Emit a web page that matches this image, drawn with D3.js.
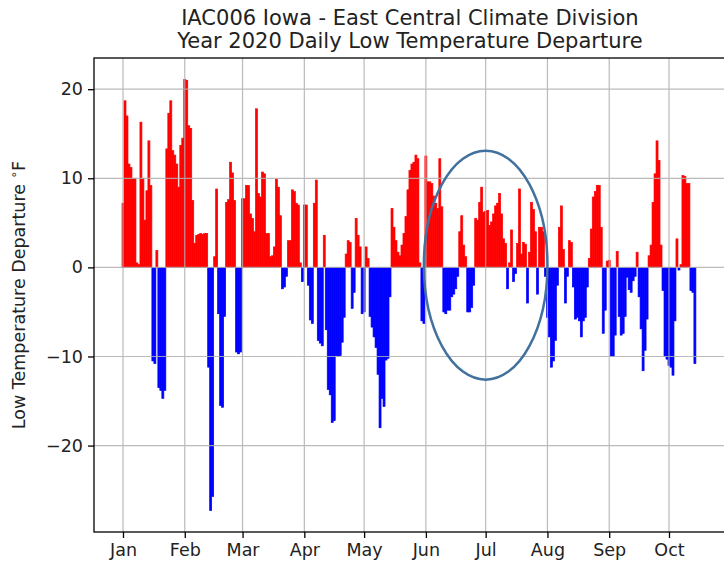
<!DOCTYPE html>
<html>
<head>
<meta charset="utf-8">
<script src="https://cdn.jsdelivr.net/npm/d3@7"></script>
<style>
  body { margin: 0; background: #fff; }
  svg { display: block; font-family: "DejaVu Sans", sans-serif; }
</style>
</head>
<body>
<div id="chart"></div>
<script>
// daily low temperature departure (F) for 2020, one array per month
var jan = [7.2, 18.7, 17, 11.6, 11.2, 10, 10, 0.5, 0.3, 16.3, 10, 5.3, 8.6, 14.2, 9.2, -10.5,
    -10.8, 1.9, -13.5, -13.8, -14.7, -13.8, 13.3, 17.3, 18.7, 13.1, 12.6, 11.6, 9, 13.7, 14.5];
var feb = [21.1, 21, 15.9, 15.6, 7.5, 2.7, 3.6, 3.7, 3.8, 3.7, 3.8, 3.8, -11.2, -27.3, -25.7,
    1.2, 8.8, -5.2, -15.5, -15.7, -5.5, 7.3, 7.6, 11.8, 10.6, 7.5, -9.5, -9.7, -9.5];
var mar = [7.7, 7.7, 9.2, 9.2, 6, 5.5, 4, 17.8, 8.3, 7.9, 10.7, 10.5, 3.8, 3.8, 1.2, 1.3,
    2.3, 9.9, 9, 5.8, -2.4, -2.2, -1, 3, 3, 8.7, 8.5, 7.2, 7, 0.5, -1.6];
var apr = [7, 7, -2, -5.9, -6.3, 7.2, 9.8, -8.2, -8.5, -8.8, 3.6, -7, -13.7, -14.3, -17.4,
    -17.2, -9.9, -10, -9.9, -8.4, -5.6, 1.5, 3, 2.8, -4.6, -2.8, 5.5, 3.6, 2.3, -5.2];
var may = [-5, 2.3, 1, -5.5, -6.7, -7.8, -9, -12, -18, -14.7, -15.6, -10.4, -10.2, -3.3, 6.6,
    4.5, 3, 1.7, 1.3, 2.5, 3.8, 5.7, 8.7, 10.9, 11.6, 11.8, 12.6, 12.2, 0.5, -6, -6.3];
var jun = [12.5, 9.6, 9.6, 9.4, 8, 7.2, 6.6, 12.2, 6.8, -5, -5.2, -4.8, -4.8, -3.3, -3,
    -2.4, -1, 4, 5.8, 2.5, 1.2, -5, -5, -4.5, -2, 5.5, 5.3, 7.3, 9, 6.2];
var jul = [6.3, 6.4, 4.7, 5.1, 6, 6.9, 7.2, 8.3, 6, 3.2, 2.7, -2.4, 0.5, 4.2, -1.6, -0.7,
    2.7, 8.8, 1.5, 2.8, 2.6, -4, 1.7, 7.3, 6.5, 4, -3, 4.5, 4.5, 4, -1];
var aug = [-5.6, -7.8, -11.2, -10.5, -8.2, -2, 4.5, 6.9, 2, -4, -1, 3, 2.8, -2.2, -5.8, -5.6,
    -6, -7.8, -6, -5.6, -2.2, 1, 4.3, 7.9, 8.5, 9.2, 9.2, 4.5, -7.4, -4.8, 0.7];
var sep = [0.8, -10, -10, -7.6, 1.8, -5.5, -7.6, -7.4, -5.5, -1.1, -2.5, -2.8, -1.5, -1, 1.7,
    -3.3, -6.9, -11.6, -9.3, -5.8, 1.3, 2.5, 7.3, 10.5, 14.2, 12, 2.5, -2.6, -10, -10.3];
var oct = [-11, -11.2, -12.1, -6, 3.2, -0.3, 0.3, 10.3, 10.2, 9.4, 9.4, -2.6, -2.8, -10.8];

var titleLines = ["IAC006 Iowa - East Central Climate Division",
    "Year 2020 Daily Low Temperature Departure"];
var yTicks = [-20, -10, 0, 10, 20];
// circled area: dates and departure range
var circleFrom = "2020-05-31", circleTo = "2020-08-01";
var circleLow = -12.6, circleHigh = 13.1;

var DAY = 864e5;
var start = Date.UTC(2020, 0, 1);
var all = [].concat(jan, feb, mar, apr, may, jun, jul, aug, sep, oct);
var data = all.map(function (v, i) { return { date: new Date(start + i * DAY), value: v }; });

var width = 724, height = 564;
var plotLeft = 94, plotTop = 58, plotBottom = 532;
var pxPerDay = 1.9927;
var padLeft = 14.55, padRight = 302.5;
var plotRight = plotLeft + (padLeft + padRight) * pxPerDay;

var svg = d3.select("#chart").append("svg")
    .attr("width", width)
    .attr("height", height);

var x = d3.scaleUtc()
    .domain([new Date(start - padLeft * DAY), new Date(start + padRight * DAY)])
    .range([plotLeft, plotRight]);

var y = d3.scaleLinear()
    .domain([-29.7, 23.5])
    .range([plotBottom, plotTop]);

var monthStarts = d3.utcMonth.range(new Date(start), new Date(Date.UTC(2020, 10, 1)));

// bars (thin stroke of the same colour closes the seams between days)
svg.append("g").selectAll("rect")
    .data(data)
    .enter().append("rect")
    .attr("x", function (d) { return x(new Date(+d.date - DAY / 2)); })
    .attr("width", function (d) { return x(new Date(+d.date + DAY / 2)) - x(new Date(+d.date - DAY / 2)); })
    .attr("y", function (d) { return y(Math.max(0, d.value)); })
    .attr("height", function (d) { return Math.abs(y(d.value) - y(0)); })
    .attr("fill", function (d) { return d.value >= 0 ? "#ff0000" : "#0000ff"; })
    .attr("stroke", function (d) { return d.value >= 0 ? "#ff0000" : "#0000ff"; })
    .attr("stroke-width", 0.7);

// grid on top of bars, as matplotlib does
var grid = svg.append("g")
    .attr("stroke", "#b0b0b0")
    .attr("stroke-width", 1.2)
    .attr("opacity", 0.85);
grid.selectAll(".gy").data(yTicks).enter().append("line")
    .attr("x1", plotLeft).attr("x2", plotRight)
    .attr("y1", function (d) { return y(d); })
    .attr("y2", function (d) { return y(d); });
grid.selectAll(".gx").data(monthStarts).enter().append("line")
    .attr("y1", plotTop).attr("y2", plotBottom)
    .attr("x1", function (d) { return x(d); })
    .attr("x2", function (d) { return x(d); });

// axes
var xAxis = svg.append("g")
    .attr("transform", "translate(0," + plotBottom + ")")
    .call(d3.axisBottom(x).tickValues(monthStarts).tickFormat(d3.utcFormat("%b"))
        .tickSize(6).tickPadding(6));
var yAxis = svg.append("g")
    .attr("transform", "translate(" + plotLeft + ",0)")
    .call(d3.axisLeft(y).tickValues(yTicks).tickSize(6).tickPadding(5));

[xAxis, yAxis].forEach(function (a) {
    a.select(".domain").remove();
    a.selectAll(".tick line").attr("stroke", "#000").attr("stroke-width", 1.3);
    a.selectAll(".tick text").attr("fill", "#222").style("font-size", "17.5px")
        .style("font-family", "'DejaVu Sans', sans-serif");
});

// frame
svg.append("rect")
    .attr("x", plotLeft).attr("y", plotTop)
    .attr("width", plotRight - plotLeft).attr("height", plotBottom - plotTop)
    .attr("fill", "none")
    .attr("stroke", "#000")
    .attr("stroke-width", 1.3);

// annotation ellipse
var ex0 = x(new Date(circleFrom)), ex1 = x(new Date(circleTo));
svg.append("ellipse")
    .attr("cx", (ex0 + ex1) / 2)
    .attr("cy", (y(circleLow) + y(circleHigh)) / 2)
    .attr("rx", (ex1 - ex0) / 2)
    .attr("ry", (y(circleLow) - y(circleHigh)) / 2)
    .attr("fill", "none")
    .attr("stroke", "#41719c")
    .attr("stroke-width", 2.5);

// title
svg.append("g").selectAll("text")
    .data(titleLines)
    .enter().append("text")
    .attr("x", (plotLeft + plotRight) / 2)
    .attr("y", function (d, i) { return 25 + i * 23; })
    .attr("text-anchor", "middle")
    .attr("fill", "#222")
    .style("font-size", "21px")
    .text(function (d) { return d; });

// y label
var yl = svg.append("text")
    .attr("transform", "translate(25," + (plotTop + plotBottom) / 2 + ") rotate(-90)")
    .attr("text-anchor", "middle")
    .attr("fill", "#222")
    .style("font-size", "17.5px");
yl.append("tspan").text("Low Temperature Departure ");
yl.append("tspan").attr("dy", -7).style("font-size", "12px").text("\u2218");
yl.append("tspan").attr("dy", 7).text("F");
</script>
</body>
</html>
